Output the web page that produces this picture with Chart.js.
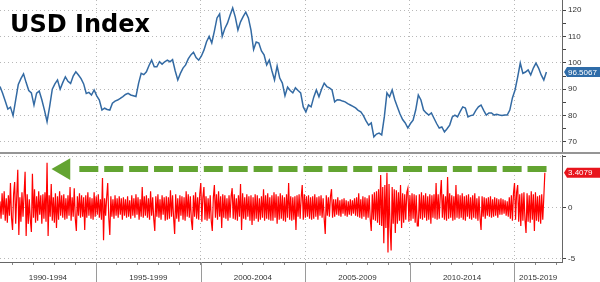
<!DOCTYPE html>
<html lang="en">
<head>
<meta charset="UTF-8">
<title>USD Index</title>
<script src="https://cdn.jsdelivr.net/npm/chart.js"></script>
<style>
  body { margin: 0; background: #fff; font-family: 'Liberation Sans', Arial, sans-serif; }
  .wrap { position: relative; width: 600px; height: 282px; overflow: hidden; }
  #topChart { position: absolute; left: 0; top: 0; }
  .divider { position: absolute; left: 0; top: 152px; width: 600px; height: 2px; background: #959595; }
  #bottomChart { position: absolute; left: 0; top: 155px; }
  .title { position: absolute; left: 10px; top: 10px; font: bold 24px 'DejaVu Sans', sans-serif; color: #000; line-height: 28px; }
</style>
</head>
<body>
<div class="wrap">
  <canvas id="topChart" width="600" height="152"></canvas>
  <div class="divider"></div>
  <canvas id="bottomChart" width="600" height="127"></canvas>
  <div class="title">USD Index</div>
</div>
<script>
// time axis in decimal years
const startYear = 1990.41;
const endYear = 2017.28;
const gridYears = [1995, 2000, 2005, 2010, 2015];
const periodLabels = ['1990-1994', '1995-1999', '2000-2004', '2005-2009', '2010-2014', '2015-2019'];
const periodCenters = [1992.7, 1997.5, 2002.5, 2007.5, 2012.5, 2016.14];

// USD index level, one reading every 1/8 year
const usdStep = 0.125;
const usdValues = [
  91, 88.5, 85.5, 82.5, 83.2, 80, 86, 91.8, 94, 95.8,
  92.5, 89.5, 88.6, 84, 88.5, 89.3, 86, 82.1, 77.7, 83.5,
  90, 92, 93.5, 90, 92.5, 94.7, 93, 92.2, 95, 96.6,
  95.4, 94, 92, 88.4, 88.8, 87.8, 89.7, 87.5, 85.9, 82.1,
  82.8, 82.3, 82.1, 84.7, 85.5, 85.9, 86.5, 87.2, 88, 88.4,
  87.8, 87.5, 87.2, 92.2, 96, 95.5, 96.6, 99, 101, 98.5,
  98.5, 100.4, 99.5, 100.4, 101, 100.4, 101.2, 97, 93.5, 96,
  98, 99.2, 101.5, 103, 104, 102, 101, 102.5, 104.8, 108,
  110, 107.5, 112, 117, 118.5, 110, 113, 115, 118, 120.8,
  117.3, 112.4, 115.5, 117.5, 119.2, 117, 112.4, 105, 107.9, 107.5,
  104.5, 103, 99.2, 101, 97, 93.5, 98.8, 94.2, 92.3, 87.5,
  90.8, 89.5, 88.6, 90.5, 89.5, 88.6, 83.3, 81.4, 84, 83.3,
  87, 89.7, 87.1, 90, 92.3, 91, 90.5, 89.7, 85.2, 86,
  85.9, 85.5, 85.2, 84.5, 84, 83.5, 82.9, 82, 81.4, 80,
  78, 76.4, 77.2, 71.9, 73, 73.4, 72.7, 79.5, 88.6, 87.1,
  89.7, 86, 83.3, 80.6, 78.5, 77.2, 75.3, 77, 78.3, 82.1,
  87.8, 85.9, 82.1, 81, 80.2, 81, 79, 77, 75.3, 75.7,
  73.8, 75, 76.4, 79.5, 80.2, 79.5, 81.5, 83.3, 82.9, 79.5,
  80, 80.2, 82, 83.3, 84, 82, 80.2, 81, 81, 80.2,
  80.5, 80.2, 80, 80.2, 80.2, 82.1, 86.7, 89.7, 94.6, 99.9,
  96, 96.5, 97.3, 95.4, 98, 99.9, 98, 95.4, 93.5, 96.5067
];

// daily move (standard deviations), one reading every 1/20 year
const zStep = 0.05;
const zValues = [
  0.6, -1.1, 1.4, -0.7, 1.6, -1.3, 0.9, -1.5, 1.2, -0.8, 2.4, -1.0, -2.2, 1.3, 2.5, -1.6, 1.1, 3.7, -2.7, 1.0,
  -1.4, 1.5, -0.9, 1.2, 3.5, -2.8, 1.3, -1.6, 0.8, -1.2, -2.4, 3.3, -1.0, 1.8, -1.5, 1.1, -1.3, 1.6, -0.7, 1.2,
  -1.6, 1.3, -1.1, 1.5, -1.4, 4.4, -2.8, 1.2, -0.9, 2.3, -1.3, 1.0, -1.5, 1.4, -2.0, 1.1, -1.2, 1.6, -0.8, 1.2,
  -1.0, 1.3, -1.2, 0.9, -1.1, 1.2, -0.8, 2.0, -1.3, 1.0, -0.9, 1.9, -1.1, -2.3, 1.1, -0.8, 1.4, -1.0, 1.2, -0.9,
  1.0, -2.2, 1.2, -1.0, 1.5, -0.8, 1.0, -1.1, 0.9, -1.2, 1.5, -0.9, 1.1, -0.7, 1.3, -1.0, 0.8, -1.2, 2.9, -3.2,
  0.9, -0.8, 1.0, 2.4, -1.0, -2.7, 1.1, -0.9, 0.8, -1.1, 1.2, -0.8, 0.9, -1.0, 1.1, -0.7, 0.9, -1.2, 1.0, -0.8,
  0.8, -1.0, 1.1, -0.9, 0.7, -1.1, 1.2, -0.8, 0.9, -1.0, 1.3, -0.7, 1.0, -1.2, 0.8, -0.9, 2.0, -1.0, 1.1, -0.8,
  1.2, -1.0, 0.9, -1.2, 1.6, -0.8, 1.0, -1.1, -2.3, 1.1, -0.9, 1.3, -1.0, 0.8, -1.2, 1.2, -0.7, 1.0, -1.3, 1.1,
  -1.2, 1.0, -1.1, 1.7, -0.9, 1.2, -1.0, -2.6, 1.3, -1.1, 0.9, -1.4, 1.2, -0.8, 1.1, -1.2, 1.0, -1.3, 1.6, -0.9,
  1.3, -1.0, 1.1, -1.3, -2.2, 1.2, -0.9, 1.5, -1.1, 1.0, -1.2, 1.3, 2.4, -1.4, 1.0, 2.0, -1.2, 1.1, -1.3, 0.9,
  -1.1, 1.2, -1.3, -2.3, 1.0, 2.2, -1.0, 1.3, -1.2, 1.6, -0.9, 1.1, -2.0, 1.3, -1.0, 1.2, -1.1, 0.9, -1.3, 1.2,
  -1.0, 1.1, 1.9, -1.1, 1.3, -1.2, 0.9, -1.3, 1.2, -0.9, 2.3, -2.2, 1.4, -1.1, 1.0, -1.2, 1.3, -0.9, 1.1, -1.3,
  1.2, -1.7, 1.0, -1.3, 1.3, -1.1, 1.2, -1.4, 0.9, -1.2, 1.1, -1.0, 1.8, -1.3, 1.2, -1.1, 1.4, -1.2, 1.0, -1.3,
  1.2, -1.3, 1.5, -1.0, 1.3, -1.6, 1.1, -1.2, 1.4, -1.1, 1.2, -1.3, 1.0, -1.4, 1.3, -1.0, 2.4, -1.2, 1.1, -1.3,
  1.0, -1.2, 1.1, -2.2, 1.2, -0.9, 1.3, -1.1, 1.0, 2.2, -1.2, 1.3, -1.0, 1.1, -0.9, 1.2, -1.1, 1.0, -1.2, 1.1,
  -1.1, 1.3, -0.9, 1.0, -1.2, 1.1, -0.8, 1.2, -1.0, 0.9, -1.1, -2.6, 1.2, -0.8, 1.0, -0.9, 1.1, 1.8, -1.0, 0.8,
  -0.9, 0.8, -0.7, 1.0, -0.8, 0.7, -0.9, 0.8, -0.6, 0.9, -0.8, 0.7, -0.9, 0.6, -0.7, 0.8, -0.8, 0.7, -0.6, 0.9,
  -0.8, 1.0, -0.9, 1.4, -1.0, 0.8, -1.1, 1.1, -0.9, 1.0, -1.2, 0.9, -1.0, 1.2, -1.1, -2.3, 1.3, -1.2, 1.5, -1.3,
  1.6, -1.5, 1.8, -1.7, 3.2, -1.8, 2.0, -3.5, 2.2, -2.0, 3.4, -4.4, 2.3, -1.9, -4.2, 2.0, -1.6, 1.8, -2.5, 1.7,
  -1.6, 1.5, -1.3, 2.2, -2.0, 1.4, -1.5, 1.3, -1.2, 1.5, 1.9, -1.4, 1.2, -1.3, 1.4, -1.1, 1.3, -1.5, 1.2, -1.8,
  -1.8, 1.3, -1.1, 1.5, -1.2, 1.2, -1.0, 1.4, -1.3, 1.1, -1.2, 1.3, -1.6, 1.2, -1.0, 1.3, -1.1, 2.4, -1.2, 1.3,
  -1.1, 1.2, 2.7, -1.0, 1.3, -1.2, 1.1, -1.3, 3.0, -1.1, 1.4, -1.0, 1.2, -1.3, 1.1, -1.2, 2.2, -1.0, 1.3, -1.1,
  1.2, -1.0, 1.4, -1.2, 1.1, -1.3, 1.2, -0.9, 1.3, -1.1, 1.0, -1.2, 1.2, -1.0, 1.4, -1.1, 0.9, -1.3, 1.1, -1.0,
  -2.2, 1.1, -0.9, 1.0, -1.1, 0.9, -0.8, 1.0, -0.9, 1.1, -1.0, 0.8, -0.9, 1.0, -0.8, 0.9, -1.0, 0.8, -0.7, 0.9,
  -0.7, 0.8, -0.6, 0.7, -0.8, 0.6, -0.9, 1.0, -1.1, 1.2, -1.3, 1.4, 2.4, -1.2, 1.5, 2.2, -1.4, 1.3, -1.8, 1.4,
  -1.3, 1.5, -1.2, -2.5, 1.4, -1.4, 1.2, -1.5, 1.6, -1.2, 1.3, -2.3, 1.5, -1.3, 1.1, -1.4, 1.2, -1.6, 1.3, -1.2,
  1.0, 3.4079
];

// green arrow pointing back to the last comparable move
const arrowLevel = 3.77;
const arrowFrom = 2016.54;
const arrowTo = 1994.19;
const arrowTip = 1993.47;

const blue = '#336aa3';
const red = '#ff0000';
const green = '#63a431';
const gridGray = '#b8b8b8';
const axisGray = '#666';
const tickFont = { family: "'Liberation Sans', Arial, sans-serif", size: 8 };

const usdPoints = usdValues.map((v, i) => ({ x: startYear + i * usdStep, y: v }));
const zPoints = zValues.map((v, i) => ({ x: startYear + i * zStep, y: v }));

// label box on the right axis at the last value
const lastTag = {
    id: 'lastTag',
    afterDraw(chart, args, opts) {
        const data = chart.data.datasets[opts.dataset].data;
        const last = data[data.length - 1].y;
        const y = chart.scales.y.getPixelForValue(last);
        const x0 = chart.chartArea.right + 2;
        const x1 = chart.width;
        const ctx = chart.ctx;
        ctx.save();
        ctx.fillStyle = opts.color;
        ctx.beginPath();
        ctx.moveTo(x0, y);
        ctx.lineTo(x0 + 3, y - 5);
        ctx.lineTo(x1, y - 5);
        ctx.lineTo(x1, y + 5);
        ctx.lineTo(x0 + 3, y + 5);
        ctx.closePath();
        ctx.fill();
        ctx.fillStyle = '#fff';
        ctx.font = "8px 'Liberation Sans', Arial, sans-serif";
        ctx.textBaseline = 'middle';
        ctx.fillText(last.toFixed(4), x0 + 4, y + 0.5);
        ctx.restore();
    }
};

// solid separators between the period labels
const periodSeparators = {
    id: 'periodSeparators',
    afterDraw(chart) {
        const ctx = chart.ctx;
        const xs = chart.scales.x;
        ctx.save();
        ctx.strokeStyle = '#9a9a9a';
        ctx.lineWidth = 1;
        gridYears.forEach(yr => {
            const x = Math.round(xs.getPixelForValue(yr)) + 0.5;
            ctx.beginPath();
            ctx.moveTo(x, chart.chartArea.bottom);
            ctx.lineTo(x, chart.height);
            ctx.stroke();
        });
        ctx.restore();
    }
};

function fixRightAxis(scale) {
    scale.width = 38;
    scale.paddingTop = 0;
    scale.paddingBottom = 0;
}

new Chart(document.getElementById('topChart'), {
    type: 'line',
    data: {
        datasets: [{
            data: usdPoints,
            borderColor: blue,
            borderWidth: 1.5,
            pointRadius: 0,
            tension: 0
        }]
    },
    options: {
        responsive: false,
        animation: false,
        events: [],
        layout: { padding: 0, autoPadding: false },
        scales: {
            x: {
                type: 'linear',
                min: startYear,
                max: endYear,
                afterBuildTicks: s => { s.ticks = gridYears.map(v => ({ value: v })); },
                afterFit: s => { s.height = 0; s.paddingLeft = 0; s.paddingRight = 0; },
                ticks: { display: false },
                grid: { color: gridGray, drawTicks: false },
                border: { display: false, dash: [1, 3] }
            },
            y: {
                position: 'right',
                min: 66.21,
                max: 123.79,
                afterBuildTicks: s => {
                    const t = [];
                    for (let v = 70; v <= 120; v += 5) t.push({ value: v });
                    s.ticks = t;
                },
                afterFit: fixRightAxis,
                ticks: {
                    font: tickFont,
                    color: '#333',
                    padding: 2,
                    callback: v => (v % 10 === 0 ? v : '')
                },
                grid: {
                    color: c => (c.tick && c.tick.value % 10 === 0 ? gridGray : 'rgba(0,0,0,0)'),
                    tickColor: '#444',
                    tickLength: 4
                },
                border: { color: axisGray, dash: [1, 3] }
            }
        },
        plugins: {
            legend: { display: false },
            tooltip: { enabled: false },
            lastTag: { dataset: 0, color: '#2f6ca8' }
        }
    },
    plugins: [lastTag]
});

new Chart(document.getElementById('bottomChart'), {
    type: 'line',
    data: {
        datasets: [{
            // dashed shaft, drawn from the right so the dashes line up at the end
            data: [{ x: arrowFrom, y: arrowLevel }, { x: arrowTo, y: arrowLevel }],
            borderColor: green,
            borderWidth: 6,
            borderDash: [19, 5.9],
            pointRadius: 0,
            order: 0
        }, {
            data: [{ x: arrowTip, y: arrowLevel }],
            showLine: false,
            pointStyle: 'triangle',
            pointRotation: -90,
            pointRadius: 12.5,
            pointBackgroundColor: green,
            pointBorderWidth: 0,
            order: 1
        }, {
            data: zPoints,
            borderColor: red,
            borderWidth: 1.2,
            pointRadius: 0,
            tension: 0,
            order: 2
        }]
    },
    options: {
        responsive: false,
        animation: false,
        events: [],
        layout: { padding: 0, autoPadding: false },
        scales: {
            x: {
                type: 'linear',
                min: startYear,
                max: endYear,
                afterBuildTicks: s => {
                    const t = [];
                    for (let yr = Math.ceil(startYear); yr <= endYear; yr++) t.push(yr);
                    s.ticks = t.concat(periodCenters).sort((a, b) => a - b).map(v => ({ value: v }));
                },
                afterFit: s => { s.height = 20; s.paddingLeft = 0; s.paddingRight = 0; },
                ticks: {
                    font: tickFont,
                    color: '#333',
                    autoSkip: false,
                    maxRotation: 0,
                    minRotation: 0,
                    padding: 8,
                    callback: v => {
                        const k = periodCenters.indexOf(v);
                        return k >= 0 ? periodLabels[k] : '';
                    }
                },
                grid: {
                    color: c => (c.tick && gridYears.includes(c.tick.value) ? gridGray : 'rgba(0,0,0,0)'),
                    tickColor: c => (c.tick && Number.isInteger(c.tick.value) ? '#888' : 'rgba(0,0,0,0)'),
                    tickLength: 3
                },
                border: { color: axisGray, dash: [1, 3] }
            },
            y: {
                position: 'right',
                min: -5.34,
                max: 5.15,
                afterBuildTicks: s => { s.ticks = [-5, 0, 5].map(v => ({ value: v })); },
                afterFit: fixRightAxis,
                ticks: {
                    font: tickFont,
                    color: '#333',
                    padding: 2,
                    callback: v => (v === 5 ? '' : v)
                },
                grid: { color: gridGray, tickColor: '#444', tickLength: 4 },
                border: { color: axisGray, dash: [1, 3] }
            }
        },
        plugins: {
            legend: { display: false },
            tooltip: { enabled: false },
            lastTag: { dataset: 2, color: '#e8141c' }
        }
    },
    plugins: [lastTag, periodSeparators]
});
</script>
</body>
</html>
